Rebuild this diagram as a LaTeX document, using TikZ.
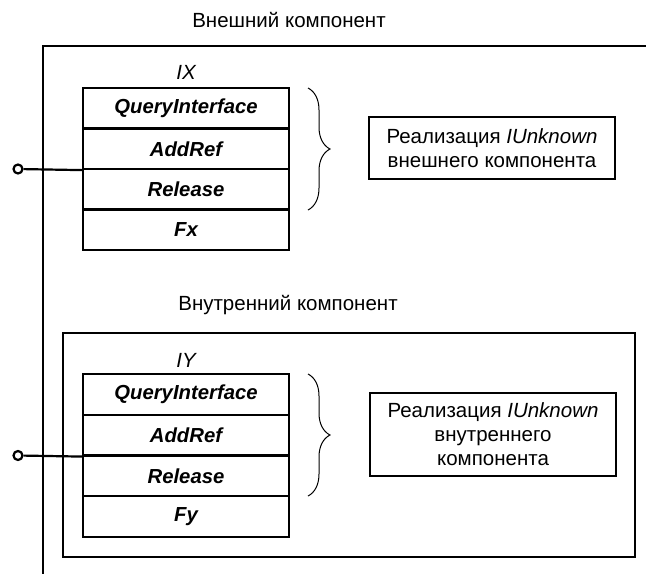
\documentclass[tikz,border=0pt]{standalone}
\usepackage{fontspec}
\setmainfont{Liberation Sans}
\usetikzlibrary{decorations.pathreplacing}
\begin{document}
\begin{tikzpicture}[x=1pt,y=-1pt,
  heavy/.style={line width=2.2pt},
  row/.style={draw,line width=2.2pt,minimum width=206pt,inner sep=0pt,font=\fontsize{20.3}{24}\selectfont\bfseries\itshape},
  lbl/.style={inner sep=0pt,font=\fontsize{20.5}{24}\selectfont},
  implbox/.style={draw,line width=2.2pt,inner sep=0pt,align=center,font=\fontsize{20.5}{24}\selectfont},
  brc/.style={decorate,decoration={brace,amplitude=22pt,aspect=0.5},line width=1pt},
  port/.style={circle,draw,line width=2.2pt,minimum size=9pt,inner sep=0pt}]
\useasboundingbox (0,0) rectangle (646,574);
% outer component
\node[lbl] (outertitle) at (289,20) {Внешний компонент};
\coordinate (otr) at (646,46);
\coordinate (otl) at (43,46);
\coordinate (obl) at (43,574);
\draw[heavy] (otr) -- (otl) -- (obl);
% IX interface
\node[lbl,font=\fontsize{20.5}{24}\selectfont\itshape] (ix) at (186,72) {IX};
\node[row,minimum height=40.5pt] (xqi) at (186,108.25) {QueryInterface};
\node[row,minimum height=40.5pt] (xadd) at (186,148.75) {AddRef};
\node[row,minimum height=40.5pt] (xrel) at (186,189.25) {Release};
\node[row,minimum height=40.5pt] (xfx) at (186,229.75) {Fx};
\node[port] (px) at (18,169) {};
\draw[heavy] (px) -- (xadd.south west);
\coordinate (bxt) at (308,88);
\coordinate (bxb) at (308,210);
\draw[brc] (bxt) -- (bxb);
\node[implbox,minimum width=246pt,minimum height=62pt] (ximpl) at (492,148) {Реализация \textit{IUnknown}\\внешнего компонента};
% inner component
\node[lbl] (innertitle) at (288,305) {Внутренний компонент};
\node[draw,heavy,minimum width=572pt,minimum height=224pt,inner sep=0pt] (inner) at (349,445) {};
\node[lbl,font=\fontsize{20.5}{24}\selectfont\itshape] (iy) at (186,360) {IY};
\node[row,minimum height=40.75pt] (yqi) at (186,394.4) {QueryInterface};
\node[row,minimum height=40.75pt] (yadd) at (186,435.1) {AddRef};
\node[row,minimum height=40.75pt] (yrel) at (186,475.9) {Release};
\node[row,minimum height=40.75pt] (yfy) at (186,516.6) {Fy};
\node[port] (py) at (18,455.5) {};
\draw[heavy] (py) -- (yadd.south west);
\coordinate (byt) at (308,374);
\coordinate (byb) at (308,496);
\draw[brc] (byt) -- (byb);
\node[implbox,minimum width=246pt,minimum height=83pt] (yimpl) at (493,434.5) {Реализация \textit{IUnknown}\\внутреннего\\компонента};
\end{tikzpicture}
\end{document}
